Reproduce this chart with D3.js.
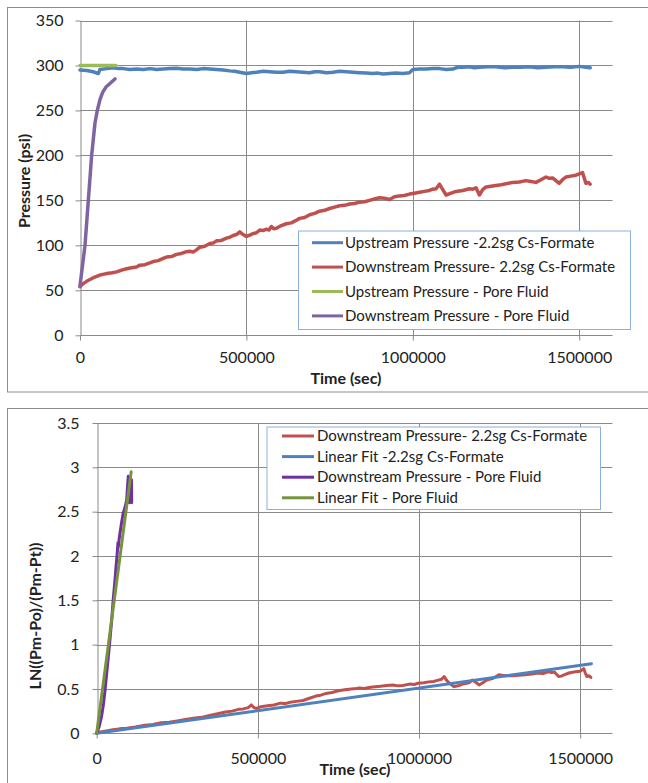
<!DOCTYPE html>
<html>
<head>
<meta charset="utf-8">
<script src="https://cdn.jsdelivr.net/npm/d3@7"></script>
<style>
  body { margin: 0; background: #fff; }
  svg text { font-family: Lato, "Liberation Sans", sans-serif; fill: #222; }
</style>
</head>
<body>
<svg id="chart" width="648" height="783"></svg>
<script>
// ---- data (time in sec) ----
const upstreamCs = [[0,295],[20000,294.5],[40000,293],[55000,291],[60000,295.5],[80000,296.5],[100000,297.5],[115000,296.5],[130000,296.5],[150000,295.5],[170000,296],[190000,295.5],[210000,296.5],[230000,295.5],[250000,296],[270000,296.5],[290000,297],[310000,296],[330000,296],[350000,295.5],[370000,296.5],[390000,296],[410000,295.5],[430000,295],[450000,294],[465000,293.5],[480000,292.5],[500000,291],[515000,292],[530000,292.5],[550000,293.5],[570000,293],[590000,292.5],[610000,292.5],[630000,293.5],[650000,293],[670000,292.5],[690000,292],[705000,293],[720000,293],[740000,292],[760000,292.5],[780000,293.5],[800000,293],[820000,292.5],[840000,292],[860000,291.5],[880000,291],[895000,291.5],[910000,290.5],[930000,291],[950000,291.5],[970000,291],[990000,292],[1000000,295.5],[1020000,296],[1040000,296],[1060000,296.5],[1080000,296.5],[1100000,295.5],[1120000,296],[1135000,298],[1150000,298],[1170000,298.5],[1185000,297.5],[1200000,298],[1225000,298.5],[1250000,298.5],[1275000,297.5],[1300000,298],[1325000,298],[1350000,298.5],[1375000,297.5],[1400000,298],[1425000,298.5],[1450000,298.5],[1475000,298],[1500000,299],[1520000,298],[1533000,297.5]];
const downstreamCs = [[0,54],[5000,56],[12000,58],[20000,60],[30000,62],[40000,64],[50000,65.5],[60000,67],[72000,68],[85000,69],[97000,69.5],[110000,70.5],[125000,72.5],[140000,74],[155000,75],[170000,76],[180000,78],[195000,78.5],[210000,80.5],[220000,82],[235000,83],[250000,85.5],[260000,87],[275000,87.5],[290000,90],[305000,91],[320000,93],[330000,93.5],[340000,92.5],[350000,95],[360000,98],[375000,99],[390000,102],[400000,102.5],[410000,105],[425000,105.5],[440000,108],[450000,109],[460000,111],[470000,112],[480000,115],[490000,112],[500000,110],[510000,111.5],[520000,113],[530000,114],[540000,117],[550000,116.5],[560000,118],[568000,117],[575000,121],[582000,118.5],[590000,119],[605000,122],[620000,124],[635000,125],[650000,128],[660000,130],[675000,131],[690000,134],[705000,135.5],[720000,138],[735000,139],[750000,141],[765000,142.5],[780000,144],[795000,144.5],[810000,146],[825000,146.5],[840000,148],[855000,148.5],[870000,150],[885000,151.5],[900000,153],[915000,152.5],[930000,151],[945000,154],[960000,155],[975000,155.5],[990000,157],[1005000,158],[1020000,159],[1035000,160],[1050000,161],[1060000,162.5],[1070000,163],[1080000,168],[1090000,162],[1100000,156],[1115000,158],[1130000,160],[1150000,161],[1170000,163],[1180000,162.5],[1190000,164],[1200000,156],[1210000,162],[1220000,165],[1240000,166],[1260000,167],[1280000,168.5],[1300000,170],[1320000,170.5],[1340000,172],[1355000,171],[1370000,170],[1385000,173],[1400000,176],[1410000,174.5],[1420000,175],[1430000,172],[1440000,169],[1450000,173],[1460000,176],[1475000,177],[1490000,178],[1500000,179.5],[1510000,181],[1515000,175],[1520000,169],[1527000,170],[1533000,168]];
const upstreamPore = [[0,300],[30000,300],[60000,300],[90000,300],[108000,300]];
const downstreamPore = [[0,55],[15000,100],[25000,150],[35000,200],[45000,236],[52000,250],[60000,262],[68000,270],[78000,276],[90000,280],[105000,285]];

const lnDownCs = [[0,0.01],[10000,0.015],[20000,0.02],[35000,0.03],[50000,0.04],[70000,0.05],[93000,0.056],[120000,0.07],[150000,0.09],[175000,0.1],[200000,0.12],[225000,0.125],[250000,0.14],[275000,0.155],[300000,0.17],[325000,0.18],[350000,0.2],[375000,0.22],[400000,0.24],[420000,0.25],[440000,0.27],[455000,0.275],[470000,0.29],[480000,0.32],[488000,0.29],[495000,0.28],[510000,0.3],[530000,0.31],[550000,0.32],[570000,0.34],[585000,0.335],[600000,0.35],[620000,0.36],[640000,0.37],[660000,0.395],[680000,0.42],[695000,0.43],[712000,0.45],[730000,0.46],[750000,0.48],[770000,0.49],[790000,0.5],[805000,0.505],[815000,0.51],[830000,0.505],[850000,0.52],[865000,0.525],[880000,0.53],[900000,0.54],[918000,0.545],[935000,0.535],[950000,0.54],[970000,0.555],[985000,0.55],[997000,0.565],[1015000,0.57],[1030000,0.58],[1045000,0.585],[1060000,0.6],[1070000,0.61],[1078000,0.64],[1085000,0.6],[1090000,0.58],[1100000,0.55],[1109000,0.526],[1125000,0.54],[1140000,0.56],[1155000,0.57],[1165000,0.6],[1175000,0.58],[1186000,0.545],[1198000,0.57],[1210000,0.6],[1230000,0.62],[1248000,0.66],[1265000,0.65],[1290000,0.65],[1310000,0.655],[1330000,0.66],[1350000,0.67],[1370000,0.68],[1385000,0.675],[1402000,0.695],[1412000,0.685],[1420000,0.69],[1428000,0.66],[1433000,0.64],[1442000,0.645],[1450000,0.66],[1465000,0.68],[1485000,0.695],[1500000,0.7],[1511000,0.73],[1516000,0.68],[1521000,0.64],[1527000,0.65],[1533000,0.63]];
const fitCs = [[0,0],[1535000,0.785]];
const lnDownPore = [[0,0],[8000,0.08],[15000,0.19],[21000,0.33],[26000,0.49],[33000,0.75],[41000,1.05],[47000,1.3],[51000,1.5],[56000,1.7],[60000,1.88],[63000,2.0],[66000,2.15],[67000,2.1],[70000,2.2],[76000,2.35],[82000,2.48],[88000,2.55],[93000,2.63],[95000,2.75],[98000,2.9],[100000,2.88],[101000,2.6],[104000,2.65],[106000,2.7],[108000,2.86],[108500,2.6]];
const fitPore = [[0,0],[107000,2.95]];

const xTicks = [0, 500000, 1000000, 1500000];
const yTicksTop = [0, 50, 100, 150, 200, 250, 300, 350];
const yTicksBottom = [0, 0.5, 1, 1.5, 2, 2.5, 3, 3.5];

const svg = d3.select("#chart");
const gridColor = "#8a8a8a";

function drawChart(cfg) {
    const g = svg.append("g");

    // outer frame
    g.append("rect")
        .attr("x", cfg.frame[0]).attr("y", cfg.frame[1])
        .attr("width", cfg.frame[2]).attr("height", cfg.frame[3])
        .attr("fill", "none").attr("stroke", "#8c8c8c");

    const x = d3.scaleLinear().domain([0, 1600000]).range([cfg.left, cfg.right]);
    const y = d3.scaleLinear().domain(cfg.yDomain).range([cfg.bottom, cfg.top]);

    // gridlines
    g.append("g").selectAll("line").data(cfg.yTicks.slice(1)).join("line")
        .attr("x1", cfg.left).attr("x2", cfg.right)
        .attr("y1", d => Math.round(y(d)) + 0.5).attr("y2", d => Math.round(y(d)) + 0.5)
        .attr("stroke", gridColor);
    g.append("g").selectAll("line").data(xTicks.slice(1)).join("line")
        .attr("x1", d => Math.round(x(d)) + 0.5).attr("x2", d => Math.round(x(d)) + 0.5)
        .attr("y1", cfg.top).attr("y2", cfg.bottom)
        .attr("stroke", gridColor);

    const xAxis = g.append("g")
        .attr("transform", `translate(0,${Math.round(cfg.bottom) + 0.5})`)
        .call(d3.axisBottom(x).tickValues(xTicks).tickFormat(d3.format("d"))
            .tickSize(5).tickSizeOuter(0).tickPadding(cfg.xPad));
    const yAxis = g.append("g")
        .attr("transform", `translate(${Math.round(cfg.left) + 0.5},0)`)
        .call(d3.axisLeft(y).tickValues(cfg.yTicks).tickFormat(d => String(d))
            .tickSize(5).tickSizeOuter(0).tickPadding(cfg.yPad));
    [xAxis, yAxis].forEach(a => {
        a.select(".domain").attr("stroke", gridColor);
        a.selectAll(".tick line").attr("stroke", gridColor);
        a.selectAll(".tick text").attr("font-size", 16).attr("fill", "#222")
            .style("font-family", "Lato, 'Liberation Sans', sans-serif");
    });
    // keep the x axis line across the plot width
    xAxis.select(".domain").attr("d", `M${cfg.left},0H${cfg.right}`);

    const line = d3.line().x(d => x(d[0])).y(d => y(d[1]));
    cfg.series.forEach(s => {
        g.append("path").datum(s.data)
            .attr("d", line)
            .attr("fill", "none")
            .attr("stroke", s.color)
            .attr("stroke-width", cfg.lineWidth)
            .attr("stroke-linejoin", "round")
            .attr("stroke-linecap", "round");
    });

    // axis titles
    g.append("text")
        .attr("x", cfg.xTitle[0]).attr("y", cfg.xTitle[1])
        .attr("text-anchor", "middle").attr("font-size", 16).attr("font-weight", "bold")
        .text("Time (sec)");
    g.append("text")
        .attr("transform", `translate(${cfg.yTitle[0]},${cfg.yTitle[1]}) rotate(-90)`)
        .attr("text-anchor", "middle").attr("font-size", 16).attr("font-weight", "bold")
        .text(cfg.yTitle[2]);

    // legend
    const L = cfg.legend;
    const lg = g.append("g");
    lg.append("rect")
        .attr("x", L.box[0] + 0.5).attr("y", L.box[1] + 0.5)
        .attr("width", L.box[2]).attr("height", L.box[3])
        .attr("fill", "#fff").attr("stroke", "#8eb0dc");
    cfg.series.forEach((s, i) => {
        const ry = L.rowY + i * L.rowStep;
        lg.append("line")
            .attr("x1", L.lineX[0]).attr("x2", L.lineX[1])
            .attr("y1", ry).attr("y2", ry)
            .attr("stroke", s.color).attr("stroke-width", 3);
        lg.append("text")
            .attr("x", L.textX).attr("y", ry + 5.2)
            .attr("font-size", 15)
            .text(s.name);
    });
}

drawChart({
    frame: [7.5, 7.5, 700, 384.5],
    left: 80, right: 612.5, top: 20.5, bottom: 335.3,
    yDomain: [0, 350], yTicks: yTicksTop,
    xPad: 11, yPad: 12,
    lineWidth: 3.5,
    xTitle: [346, 384],
    yTitle: [30, 181, "Pressure (psi)"],
    series: [
        { name: "Upstream Pressure -2.2sg Cs-Formate", color: "#4f81bd", data: upstreamCs },
        { name: "Downstream Pressure- 2.2sg Cs-Formate", color: "#c0504d", data: downstreamCs },
        { name: "Upstream Pressure - Pore Fluid", color: "#9bbb59", data: upstreamPore },
        { name: "Downstream Pressure - Pore Fluid", color: "#8064a2", data: downstreamPore }
    ],
    legend: { box: [298, 230.5, 332, 98.5], rowY: 242.7, rowStep: 24.4, lineX: [312, 343], textX: 345 }
});

drawChart({
    frame: [7.5, 408.5, 700, 400],
    left: 96.7, right: 612.4, top: 423, bottom: 733.3,
    yDomain: [0, 3.5], yTicks: yTicksBottom,
    xPad: 14, yPad: 13,
    lineWidth: 3,
    xTitle: [355, 775],
    yTitle: [41, 616, "LN((Pm-Po)/(Pm-Pt))"],
    series: [
        { name: "Downstream Pressure- 2.2sg Cs-Formate", color: "#c0504d", data: lnDownCs },
        { name: "Linear Fit -2.2sg Cs-Formate", color: "#4f81bd", data: fitCs },
        { name: "Downstream Pressure - Pore Fluid", color: "#7030a0", data: lnDownPore },
        { name: "Linear Fit - Pore Fluid", color: "#77933c", data: fitPore }
    ],
    legend: { box: [266.5, 426.5, 333.5, 82.5], rowY: 436, rowStep: 20.6, lineX: [282, 314], textX: 317 }
});
</script>
</body>
</html>
